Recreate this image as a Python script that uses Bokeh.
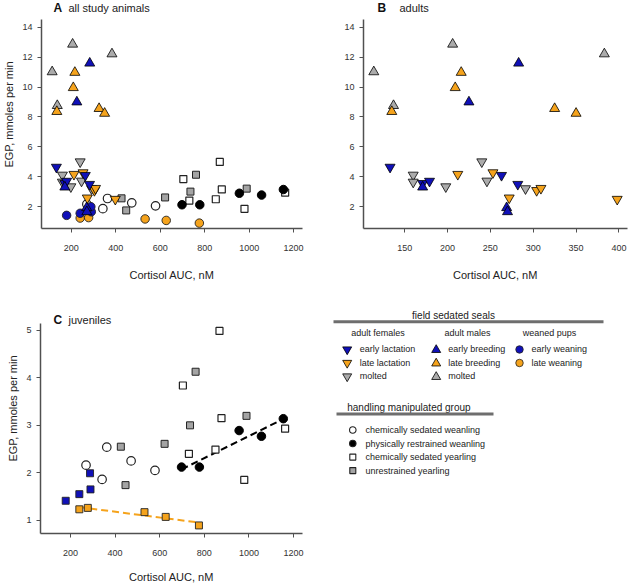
import numpy as np
from bokeh.plotting import figure
from bokeh.models import Range1d, Label, FixedTicker
from bokeh.layouts import column, row
from bokeh.embed import file_html
from bokeh.resources import INLINE
from bokeh.core.properties import value

# ---------------- data (Cortisol AUC nM, EGP mmoles/min) ----------------
# adult females (down triangles)
af_early_x = [133, 171, 179, 263, 282]
af_early_y = [4.64, 3.55, 3.70, 4.09, 3.49]
af_late_x = [212, 253, 272, 304, 309, 398]
af_late_y = [4.16, 4.27, 2.58, 3.08, 3.22, 2.49]
af_molt_x = [160, 160, 198, 240, 246, 291]
af_molt_y = [4.11, 3.64, 3.33, 5.00, 3.71, 3.20]
# adult males (up triangles)
am_early_x = [171, 225, 269, 270, 283]
am_early_y = [3.30, 9.00, 1.92, 1.65, 11.60]
am_late_x = [135, 209, 216, 325, 350]
am_late_y = [8.36, 9.96, 10.98, 8.56, 8.24]
am_molt_x = [114, 137, 206, 383]
am_molt_y = [11.02, 8.76, 12.87, 12.22]
# weaned pups
wp_early_x = [179, 240, 290, 288]
wp_early_y = [1.41, 1.55, 1.65, 1.99]
wp_late_x = [240, 278, 532, 627, 776]
wp_late_y = [1.23, 1.26, 1.17, 1.07, 0.89]
# handling manipulated group
chem_wean_x = [270, 342, 363, 472, 579]
chem_wean_y = [2.16, 1.86, 2.54, 2.25, 2.05]
phys_wean_x = [698, 778, 956, 1056, 1154]
phys_wean_y = [2.12, 2.12, 2.89, 2.77, 3.14]
chem_year_x = [704, 731, 850, 868, 877, 979, 1162]
chem_year_y = [3.84, 2.40, 2.49, 4.99, 3.15, 1.85, 2.93]
unre_year_x = [426, 447, 622, 736, 761, 989]
unre_year_y = [2.55, 1.74, 2.61, 3.00, 4.13, 3.20]

x_ticks_all = [200, 400, 600, 800, 1000, 1200]
x_ticks_adult = [150, 200, 250, 300, 350, 400]
y_ticks_ad = [2, 4, 6, 8, 10, 12, 14]
y_ticks_juv = [1, 2, 3, 4, 5]

FONT = "Liberation Sans"
BLUE = "#1010b8"
ORANGE = "#f5a31c"
GRAY = "#ababab"
SQGRAY = "#a4a4a4"
AXC = "#505050"
TXT = "#333333"


def make_fig(w, h, xr, y_lo, y_hi, y_top, xticks, yticks, left, right, bottom,
             ylabel, xl_standoff):
    # frame starts at the very top; the axis line is bounded to [y_lo, y_hi]
    p = figure(width=w, height=h, x_range=Range1d(*xr), y_range=Range1d(y_lo, y_top),
               output_backend="svg", toolbar_location=None,
               min_border_left=left, min_border_right=right,
               min_border_top=0, min_border_bottom=bottom)
    p.outline_line_color = None
    p.grid.grid_line_color = None
    p.background_fill_color = "white"
    p.border_fill_color = "white"
    p.xaxis.ticker = FixedTicker(ticks=xticks)
    p.yaxis.ticker = FixedTicker(ticks=yticks)
    p.yaxis.bounds = (y_lo, y_hi)
    for ax in (p.xaxis, p.yaxis):
        ax.axis_line_color = AXC
        ax.axis_line_width = 1.5
        ax.major_tick_line_color = AXC
        ax.major_tick_line_width = 1
        ax.major_tick_in = 0
        ax.major_tick_out = 4
        ax.minor_tick_line_color = None
        ax.major_label_text_font = FONT
        ax.major_label_text_font_size = "9px"
        ax.major_label_text_color = TXT
        ax.axis_label_text_font = FONT
        ax.axis_label_text_font_size = "11px"
        ax.axis_label_text_font_style = "normal"
        ax.axis_label_text_color = "#222222"
    p.xaxis.axis_label = "Cortisol AUC, nM"
    p.xaxis.major_label_standoff = 12
    p.xaxis.axis_label_standoff = xl_standoff
    p.yaxis.major_label_standoff = 5
    p.yaxis.axis_label_standoff = 4
    if ylabel:
        p.yaxis.axis_label = "EGP, mmoles per min"
    return p


def add_title(p, y_hi, letter, text, xo_l, xo_t, yo):
    p.add_layout(Label(x=p.x_range.start, y=y_hi, x_offset=xo_l, y_offset=yo,
                       text=letter, text_font=FONT, text_font_style="bold",
                       text_font_size="12px", text_baseline="middle", text_color="#111111"))
    p.add_layout(Label(x=p.x_range.start, y=y_hi, x_offset=xo_t, y_offset=yo,
                       text=text, text_font=FONT, text_font_size="11px",
                       text_baseline="middle", text_color="#222222"))


def tri(p, x, y, color, down, size=10):
    p.scatter(x, y, marker="inverted_triangle" if down else "triangle", size=size,
              fill_color=color, line_color="black", line_width=0.8)


def adults(p):
    tri(p, af_molt_x, af_molt_y, GRAY, True)
    tri(p, af_late_x, af_late_y, ORANGE, True)
    tri(p, af_early_x, af_early_y, BLUE, True)
    tri(p, am_molt_x, am_molt_y, GRAY, False)
    tri(p, am_late_x, am_late_y, ORANGE, False)
    tri(p, am_early_x, am_early_y, BLUE, False)


def juveniles(p, pup_marker):
    p.scatter(unre_year_x, unre_year_y, marker="square", size=7, fill_color=SQGRAY,
              line_color="#222222", line_width=1)
    p.scatter(chem_year_x, chem_year_y, marker="square", size=7, fill_color="white",
              line_color="#222222", line_width=1.2)
    p.scatter(chem_wean_x, chem_wean_y, marker="circle", size=8.5, fill_color="white",
              line_color="#222222", line_width=1.2)
    p.scatter(phys_wean_x, phys_wean_y, marker="circle", size=8.5, fill_color="black",
              line_color="black", line_width=1)
    psize = 8.5 if pup_marker == "circle" else 7
    p.scatter(wp_late_x, wp_late_y, marker=pup_marker, size=psize, fill_color=ORANGE,
              line_color="#222222", line_width=0.9)
    p.scatter(wp_early_x, wp_early_y, marker=pup_marker, size=psize, fill_color=BLUE,
              line_color="#222222", line_width=0.9)


# ---------------- panel A ----------------
pA = make_fig(315, 283, (66, 1240), 0.53, 14.53, 15.80, x_ticks_all, y_ticks_ad,
              40, 13, 54, True, 15)
juveniles(pA, "circle")
adults(pA)
add_title(pA, 14.53, "A", "all study animals", 12, 27, 11.5)

# ---------------- panel B ----------------
pB = make_fig(315, 283, (102, 410), 0.53, 14.53, 15.80, x_ticks_adult, y_ticks_ad,
              48, 3, 54, False, 15)
adults(pB)
add_title(pB, 14.53, "B", "adults", 14, 36, 11.5)

# ---------------- panel C ----------------
pC = make_fig(315, 302, (66, 1240), 0.72, 5.14, 5.99, x_ticks_all, y_ticks_juv,
              40, 13, 52, True, 12)
for xs, ys, col in ((phys_wean_x, phys_wean_y, "black"), (wp_late_x, wp_late_y, ORANGE)):
    k, b = np.polyfit(np.array(xs, float), np.array(ys, float), 1)
    xx = np.array([min(xs), max(xs)], float)
    pC.line(xx, k * xx + b, line_color=col, line_width=2, line_dash="7 4")
juveniles(pC, "square")
add_title(pC, 5.14, "C", "juveniles", 13, 28, 4)

# ---------------- legend panel (coordinates = page pixels) ----------------
pD = figure(width=315, height=302, x_range=Range1d(315, 630), y_range=Range1d(585, 283),
            x_axis_type=None, y_axis_type=None, output_backend="svg", toolbar_location=None,
            min_border=0)
pD.outline_line_color = None
pD.grid.grid_line_color = None
pD.background_fill_color = "white"
pD.border_fill_color = "white"


def ltext(x, y, t, size="9px", align="left"):
    pD.text(x=[x], y=[y], text=[t], text_font=value(FONT), text_font_size=value(size),
            text_baseline="middle", text_align=align, text_color="#222222")


ltext(453, 321.7, "field sedated seals", "10px", "center")
pD.line([333, 603], [329.3, 329.3], line_color="#6e6e6e", line_width=3)
ltext(377.5, 342.7, "adult females", "9px", "center")
ltext(467, 342.7, "adult males", "9px", "center")
ltext(549, 342.7, "weaned pups", "9px", "center")
rows_y = [362.7, 379, 395.3]
col_f = [("early lactation", BLUE), ("late lactation", ORANGE), ("molted", GRAY)]
col_m = [("early breeding", BLUE), ("late breeding", ORANGE), ("molted", GRAY)]
col_p = [("early weaning", BLUE), ("late weaning", ORANGE)]
for (t, c), yy in zip(col_f, rows_y):
    pD.scatter([346.7], [yy], marker="inverted_triangle", size=9, fill_color=c,
               line_color="black", line_width=0.8)
    ltext(359.3, yy, t)
for (t, c), yy in zip(col_m, rows_y):
    pD.scatter([435.7], [yy + 0.5], marker="triangle", size=9, fill_color=c,
               line_color="black", line_width=0.8)
    ltext(447.7, yy, t)
for (t, c), yy in zip(col_p, rows_y):
    pD.scatter([519], [yy], marker="circle", size=7.5, fill_color=c,
               line_color="#222222", line_width=0.8)
    ltext(531, yy, t)

ltext(346.7, 433.3, "handling manipulated group", "10px", "left")
pD.line([336, 493], [440.7, 440.7], line_color="#6e6e6e", line_width=3)
hrows = [460, 476.3, 492.7, 509]
hitems = [("chemically sedated weanling", "circle", "white"),
          ("physically restrained weanling", "circle", "black"),
          ("chemically sedated yearling", "square", "white"),
          ("unrestrained yearling", "square", SQGRAY)]
for (t, m, c), yy in zip(hitems, hrows):
    pD.scatter([352.3], [yy], marker=m, size=6.5 if m == "circle" else 6, fill_color=c,
               line_color="#222222", line_width=1.1)
    ltext(365, yy, t)

layout = column(row(pA, pB), row(pC, pD))
open("out.html", "w").write(file_html(layout, INLINE))
